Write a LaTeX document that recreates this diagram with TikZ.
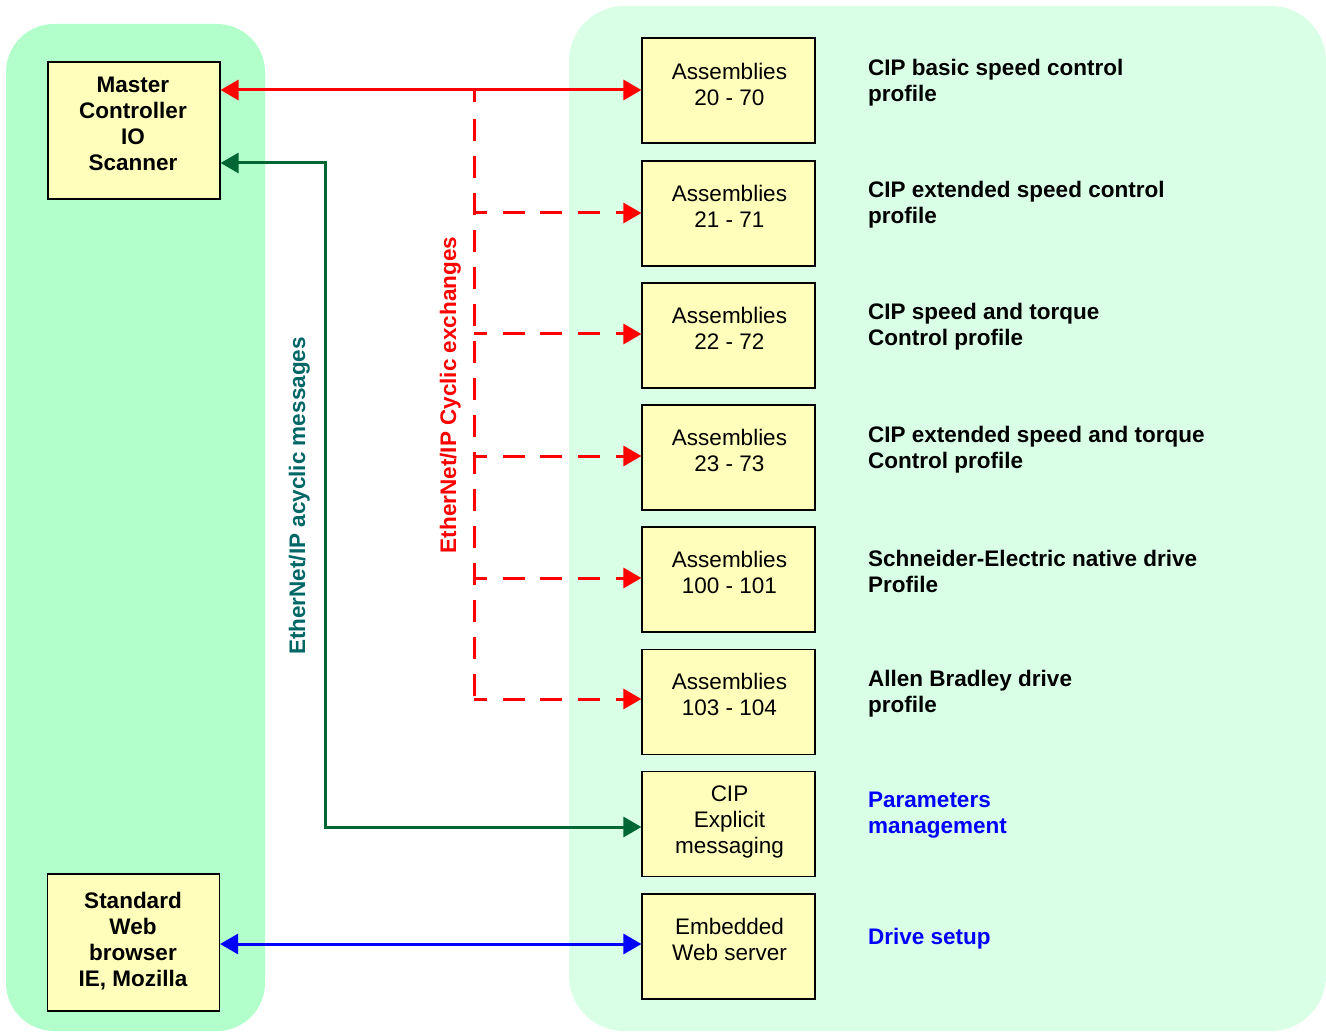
\documentclass[tikz,border=0pt]{standalone}
\usepackage{fontspec}
\setmainfont{Liberation Sans}
\usetikzlibrary{arrows.meta,calc}
\definecolor{lpanel}{HTML}{B3FFCC}
\definecolor{rpanel}{HTML}{D9FFE6}
\definecolor{boxfill}{HTML}{FFFFBB}
\definecolor{dgreen}{HTML}{006633}
\definecolor{tealtxt}{HTML}{006666}
\definecolor{bluetxt}{HTML}{0000FF}
\begin{document}
\begin{tikzpicture}[x=1pt,y=-1pt,
  box/.style={draw=black,line width=1.2pt,fill=boxfill,inner sep=0pt,minimum height=105pt},
  abox/.style={box,minimum width=173pt},
  lbox/.style={box,minimum width=172pt,minimum height=137pt},
  btxt/.style={align=center,font=\fontsize{22.5}{26}\selectfont,inner sep=0pt},
  bbtxt/.style={btxt,font=\fontsize{22.5}{26}\selectfont\bfseries},
  desc/.style={align=left,anchor=west,inner sep=0pt,font=\fontsize{22.5}{26}\selectfont\bfseries},
  arr/.style={line width=3pt,{Triangle[length=18pt,width=20pt]}-{Triangle[length=18pt,width=20pt]}},
  oarr/.style={line width=3pt,-{Triangle[length=18pt,width=20pt]}}
]
\useasboundingbox (0,0) rectangle (1326,1032);
% panels
\fill[lpanel,rounded corners=48pt] (6,24) rectangle (265,1031);
\fill[rpanel,rounded corners=55pt] (569,6) rectangle (1326,1031);

% left boxes
\node[lbox] (master) at (134,130.5) {};
\node[lbox] (web) at (133.5,942.5) {};
\node[bbtxt] (tm) at (133,124) {Master\\Controller\\IO\\Scanner};
\node[bbtxt] (tw) at (133,941.5) {Standard\\Web\\browser\\IE, Mozilla};

% right boxes
\node[abox] (a1) at (728.5,90.5) {};
\node[abox] (a2) at (728.5,213.5) {};
\node[abox] (a3) at (728.5,335.5) {};
\node[abox] (a4) at (728.5,457.5) {};
\node[abox] (a5) at (728.5,579.5) {};
\node[abox] (a6) at (728.5,702) {};
\node[abox] (cip) at (728.5,824) {};
\node[abox] (ews) at (728.5,946.5) {};

\node[btxt] (t1) at (729.5,84) {Assemblies\\20 - 70};
\node[btxt] (t2) at (729.5,206) {Assemblies\\21 - 71};
\node[btxt] (t3) at (729.5,328) {Assemblies\\22 - 72};
\node[btxt] (t4) at (729.5,450) {Assemblies\\23 - 73};
\node[btxt] (t5) at (729.5,572) {Assemblies\\100 - 101};
\node[btxt] (t6) at (729.5,694) {Assemblies\\103 - 104};
\node[btxt] (t7) at (729.5,821.5) {CIP\\Explicit\\messaging};
\node[btxt] (t8) at (729.5,939) {Embedded\\Web server};

% descriptions
\node[desc] (d1) at (868,83) {CIP basic speed control\\profile};
\node[desc] (d2) at (868,205) {CIP extended speed control\\profile};
\node[desc] (d3) at (868,327) {CIP speed and torque\\Control profile};
\node[desc] (d4) at (868,450) {CIP extended speed and torque\\Control profile};
\node[desc] (d5) at (868,571.5) {Schneider-Electric native drive\\Profile};
\node[desc] (d6) at (868,693.5) {Allen Bradley drive\\profile};
\node[desc,text=bluetxt] (d7) at (868,815) {Parameters\\management};
\node[desc,text=bluetxt] (d8) at (868,939) {Drive setup};

% red cyclic
\draw[arr,red] (master.east |- 0,90) -- (a1.west |- 0,90);
\coordinate (vtop) at (474,90);
\coordinate (vbot) at (474,699);
\draw[red,line width=3pt,dash pattern=on 12pt off 17pt on 22pt off 15pt on 22pt off 15pt on 22pt off 15pt on 22pt off 15pt on 22pt off 15pt on 22pt off 15pt on 22pt off 15pt on 22pt off 15pt on 22pt off 15pt on 22pt off 15pt on 22pt off 15pt on 22pt off 15pt on 22pt off 15pt on 22pt off 15pt on 22pt off 15pt on 22pt off 15pt on 22pt off 15pt] (vtop) -- (vbot);
\foreach \n/\yy in {a2/213,a3/334,a4/456,a5/578,a6/699}{
  \draw[oarr,red,dash pattern=on 13pt off 16pt on 22pt off 15pt on 22pt off 16pt on 22pt off 16pt on 40pt] (474,\yy) -- (\n.west |- 0,\yy);
}

% green acyclic
\coordinate (gk) at (325,163);
\draw[arr,dgreen] (master.east |- gk) -- (gk) |- (cip.west |- 0,827);

% blue
\draw[arr,blue] (web.east |- 0,944) -- (ews.west |- 0,944);

% rotated labels
\node[rotate=90,anchor=base,inner sep=0pt,text=tealtxt,font=\fontsize{22.5}{26}\selectfont\bfseries] (lac) at (305,496) {EtherNet/IP acyclic messages};
\node[rotate=90,anchor=base,inner sep=0pt,text=red,font=\fontsize{22.5}{26}\selectfont\bfseries] (lcy) at (456,395) {EtherNet/IP Cyclic exchanges};
\end{tikzpicture}
\end{document}
